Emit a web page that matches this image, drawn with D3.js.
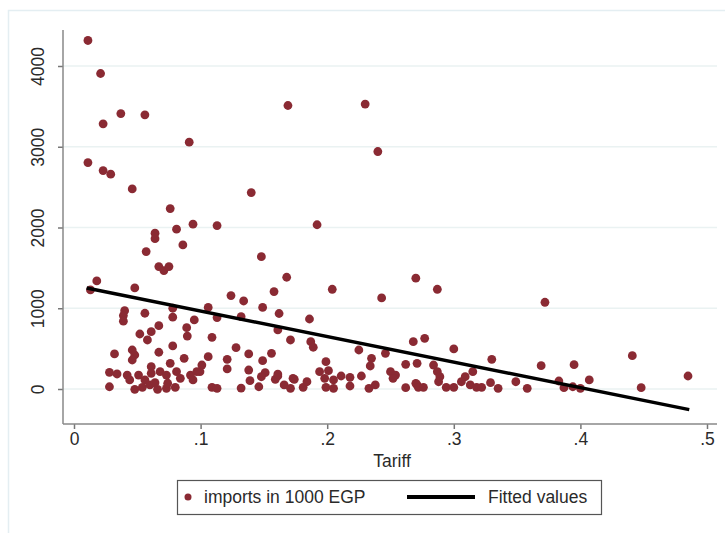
<!DOCTYPE html>
<html>
<head>
<meta charset="utf-8">
<script src="https://cdn.jsdelivr.net/npm/d3@7"></script>
<style>
  body { margin: 0; background: #fff; }
  text { font-family: "Liberation Sans", Arial, sans-serif; fill: #2a2a2a; }
</style>
</head>
<body>
<div id="chart-div"></div>
<script>
// tariff (x) and imports in 1000 EGP (y)
var tariff = [
  .011,.021,.037,.056,.023,.091,.011,.023,.029,.046,.076,.169,.230,.240,.140,.192,
  .081,.094,.113,.064,.064,.086,.057,.067,.071,.075,.018,.013,.048,.124,.148,.168,
  .158,.204,.243,.270,.287,.372,.134,.106,.149,.162,
  .040,.039,.039,.056,.078,.078,.095,.113,.132,.089,.0895,.067,.061,.052,.058,.078,
  .109,.161,.171,.128,.067,.046,.048,.046,.032,.087,.106,.121,.138,.156,.149,.101,
  .0995,.121,.138,.151,.148,.161,.094,.139,.173,.159,.109,.113,.132,.146,.166,.171,
  .181,.184,.076,.061,.028,.034,.042,.044,.051,.056,.061,.068,.073,.081,.084,.092,
  .097,.028,.048,.054,.060,.066,.073,.080,.064,.074,.186,.187,.189,.225,.246,.268,
  .199,.235,.234,.262,.271,.194,.201,.198,.205,.211,.218,.227,.250,.254,.252,.218,
  .199,.205,.233,.238,.262,.271,.277,.300,.330,.369,.284,.287,.289,.315,.309,.288,
  .306,.270,.272,.276,.294,.300,.313,.318,.322,.329,.335,.349,.358,.395,.407,.441,
  .448,.485,.383,.387,.394,.400,.161,.174
];
var imports = [
  4316,3907,3411,3395,3284,3057,2804,2705,2660,2478,2234,3511,3528,2941,2432,2034,
  1979,2041,2024,1929,1862,1784,1702,1516,1466,1516,1338,1227,1252,1157,1639,1384,
  1206,1235,1128,1372,1235,1074,1090,1010,1010,935,
  970,910,840,938,1000,890,855,885,896,760,655,784,710,681,607,533,
  640,731,607,512,455,483,421,359,434,380,400,368,434,442,351,297,
  214,248,235,202,152,161,112,103,132,120,21,8,12,28,50,8,
  21,90,318,276,207,186,173,112,173,112,194,214,173,214,132,173,
  214,28,-4,21,50,-4,8,21,78,71,867,586,517,483,442,586,
  338,380,285,306,318,214,227,132,112,161,145,161,214,173,132,37,
  21,8,8,50,16,50,628,496,368,289,297,214,152,214,152,90,
  90,70,21,21,21,21,50,21,21,78,8,90,8,301,112,413,
  16,161,99,16,28,8,185,120
];
// fitted values line, end points
var fitX = [0.010, 0.486];
var fitY = [1250, -255];
var xTicks = [0, .1, .2, .3, .4, .5];
var xTickLabels = ["0", ".1", ".2", ".3", ".4", ".5"];
var yTicks = [0, 1000, 2000, 3000, 4000];

var width = 725, height = 533;
var red = "#8a2a33";

var svg = d3.select("#chart-div").append("svg")
    .attr("width", width).attr("height", height);

// faint outer frame
svg.append("rect")
    .attr("x", 8.5).attr("y", 10.5)
    .attr("width", 740).attr("height", 540)
    .attr("fill", "none").attr("stroke", "#e4eef2").attr("stroke-width", 1.5);

var x = d3.scaleLinear().domain([0, .5]).range([74, 707]);
var y = d3.scaleLinear().domain([0, 4000]).range([389, 66]);

var axisX0 = 63, axisX1 = 717, axisYTop = 30, axisYBot = 424;

// grid lines
svg.append("g").selectAll("line")
    .data(yTicks)
    .enter().append("line")
    .attr("x1", axisX0).attr("x2", axisX1)
    .attr("y1", function(d) { return y(d); })
    .attr("y2", function(d) { return y(d); })
    .attr("stroke", "#eaf2f2").attr("stroke-width", 1.5);

// y axis
var yAxis = d3.axisLeft(y).tickValues(yTicks).tickSize(5).tickFormat(d3.format("d"));
var gy = svg.append("g")
    .attr("transform", "translate(" + axisX0 + ",0)")
    .call(yAxis);
gy.select(".domain").remove();
gy.selectAll(".tick line").attr("stroke", "#777").attr("stroke-width", 1.5);
gy.selectAll(".tick text")
    .attr("x", null).attr("dy", null)
    .attr("text-anchor", "middle")
    .attr("transform", "translate(-19,0) rotate(-90)")
    .style("font-size", "17.5px");
svg.append("line")
    .attr("x1", axisX0).attr("x2", axisX0)
    .attr("y1", axisYTop).attr("y2", axisYBot)
    .attr("stroke", "#888").attr("stroke-width", 1.5);

// x axis
var xAxis = d3.axisBottom(x).tickValues(xTicks).tickSize(5)
    .tickFormat(function(d, i) { return xTickLabels[i]; });
var gx = svg.append("g")
    .attr("transform", "translate(0," + axisYBot + ")")
    .call(xAxis);
gx.select(".domain").remove();
gx.selectAll(".tick line").attr("stroke", "#777").attr("stroke-width", 1.5);
gx.selectAll(".tick text").attr("y", 9).style("font-size", "17.5px");
svg.append("line")
    .attr("x1", axisX0).attr("x2", axisX1)
    .attr("y1", axisYBot).attr("y2", axisYBot)
    .attr("stroke", "#888").attr("stroke-width", 1.5);

svg.append("text")
    .attr("x", 392).attr("y", 467)
    .attr("text-anchor", "middle")
    .style("font-size", "17.5px")
    .text("Tariff");

// scatter points
var pts = tariff.map(function(t, i) { return {x: t, y: imports[i]}; });
svg.append("g").selectAll("circle")
    .data(pts)
    .enter().append("circle")
    .attr("cx", function(d) { return x(d.x); })
    .attr("cy", function(d) { return y(d.y); })
    .attr("r", 4.4)
    .attr("fill", red);

// fitted line
var line = d3.line()
    .x(function(d) { return x(d[0]); })
    .y(function(d) { return y(d[1]); });
svg.append("path")
    .datum(fitX.map(function(v, i) { return [v, fitY[i]]; }))
    .attr("d", line)
    .attr("fill", "none")
    .attr("stroke", "#000")
    .attr("stroke-width", 3.5);

// legend
var legend = svg.append("g").attr("class", "legend");
legend.append("rect")
    .attr("x", 177.5).attr("y", 480.5)
    .attr("width", 424).attr("height", 34)
    .attr("fill", "#fff").attr("stroke", "#555").attr("stroke-width", 1.2);
legend.append("circle")
    .attr("cx", 188).attr("cy", 497).attr("r", 3.5).attr("fill", red);
legend.append("text")
    .attr("x", 204).attr("y", 503)
    .style("font-size", "17.5px")
    .text("imports in 1000 EGP");
legend.append("line")
    .attr("x1", 407).attr("x2", 475).attr("y1", 497).attr("y2", 497)
    .attr("stroke", "#000").attr("stroke-width", 4);
legend.append("text")
    .attr("x", 488).attr("y", 503)
    .style("font-size", "17.5px")
    .text("Fitted values");
</script>
</body>
</html>
